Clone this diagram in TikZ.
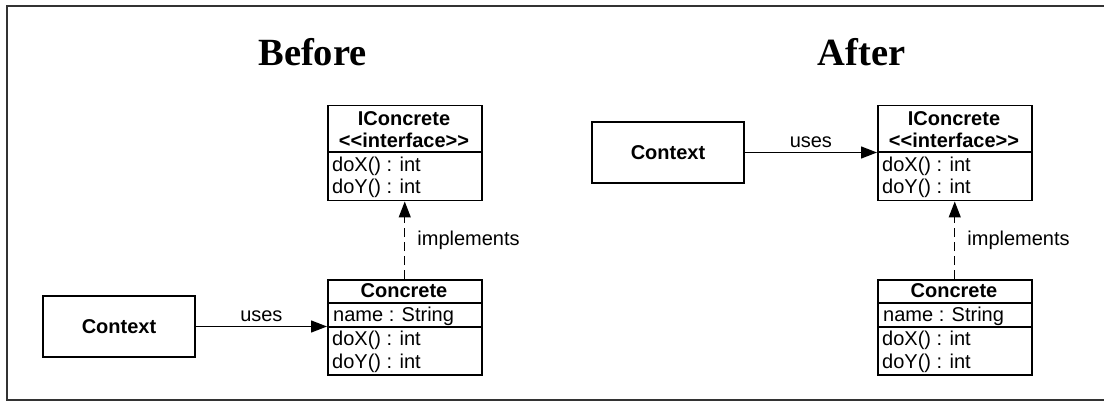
\documentclass[tikz,border=0pt]{standalone}
\usepackage{fontspec}
\setmainfont{Liberation Sans}
\newfontfamily\titlefont{Liberation Serif}
\usetikzlibrary{arrows.meta}
\tikzset{
  umlbox/.style={draw, line width=1.5pt, minimum width=154pt, inner sep=0pt, anchor=north west},
  ctxbox/.style={draw, line width=1.5pt, minimum width=152pt, minimum height=61pt, inner sep=0pt, font=\bfseries\fontsize{20}{24}\selectfont},
  sepline/.style={line width=1.3pt},
  hdr/.style={anchor=base, inner sep=0pt, font=\bfseries\fontsize{20}{24}\selectfont},
  memb/.style={anchor=base west, inner sep=0pt, font=\fontsize{20}{24}\selectfont},
  ttl/.style={anchor=base, inner sep=0pt, font=\titlefont\bfseries\fontsize{38.5}{44}\selectfont},
  lbl/.style={inner sep=0pt, font=\fontsize{20}{24}\selectfont},
  conn/.style={line width=1.3pt, -{Triangle[length=16pt,width=12pt]}},
  impl/.style={conn, dash pattern=on 9pt off 5pt},
  frame/.style={line width=2pt, draw=black!80}
}
\begin{document}
\begin{tikzpicture}[x=1pt,y=-1pt]
\useasboundingbox (0,0) rectangle (1104,401);
\clip (0,0) rectangle (1104,401);
\draw[frame] (7,6) rectangle (1112,400);

% titles
\node[ttl] (tb) at (312.5,66) {Before};
\node[ttl] (ta) at (861.5,66) {After};

% ---------- Before ----------
\node[umlbox, minimum height=95pt] (ic1) at (327,105) {};
\draw[sepline] (327,152) -- (481,152);
\node[hdr] (ic1n) at (404,126) {IConcrete};
\node[hdr] (ic1s) at (404,148) {<{}<interface>{}>};
\node[memb] (ic1x) at (332,172) {doX() : int};
\node[memb] (ic1y) at (332,194) {doY() : int};

\node[umlbox, minimum height=95pt] (c1) at (327,279) {};
\draw[sepline] (327,303) -- (481,303);
\draw[sepline] (327,327) -- (481,327);
\node[hdr] (c1n) at (404,297) {Concrete};
\node[memb] (c1a) at (333,321) {name : String};
\node[memb] (c1x) at (332,345) {doX() : int};
\node[memb] (c1y) at (332,368) {doY() : int};

\node[ctxbox] (ctx1) at (119,326.5) {Context};

\draw[conn] (ctx1.east) -- (ctx1.east -| c1.west)
  node[lbl, midway, anchor=south, yshift=4pt] (u1) {uses};
\draw[impl] (c1.north) -- (c1.north |- ic1.south)
  node[lbl, midway, anchor=west, xshift=12pt] (i1) {implements};

% ---------- After ----------
\node[umlbox, minimum height=95pt] (ic2) at (877,105) {};
\draw[sepline] (877,152) -- (1031,152);
\node[hdr] (ic2n) at (954,126) {IConcrete};
\node[hdr] (ic2s) at (954,148) {<{}<interface>{}>};
\node[memb] (ic2x) at (882,172) {doX() : int};
\node[memb] (ic2y) at (882,194) {doY() : int};

\node[umlbox, minimum height=95pt] (c2) at (877,279) {};
\draw[sepline] (877,303) -- (1031,303);
\draw[sepline] (877,327) -- (1031,327);
\node[hdr] (c2n) at (954,297) {Concrete};
\node[memb] (c2a) at (883,321) {name : String};
\node[memb] (c2x) at (882,345) {doX() : int};
\node[memb] (c2y) at (882,368) {doY() : int};

\node[ctxbox] (ctx2) at (668,152.5) {Context};

\draw[conn] (ctx2.east) -- (ctx2.east -| ic2.west)
  node[lbl, midway, anchor=south, yshift=4pt] (u2) {uses};
\draw[impl] (c2.north) -- (c2.north |- ic2.south)
  node[lbl, midway, anchor=west, xshift=12pt] (i2) {implements};
\end{tikzpicture}
\end{document}
